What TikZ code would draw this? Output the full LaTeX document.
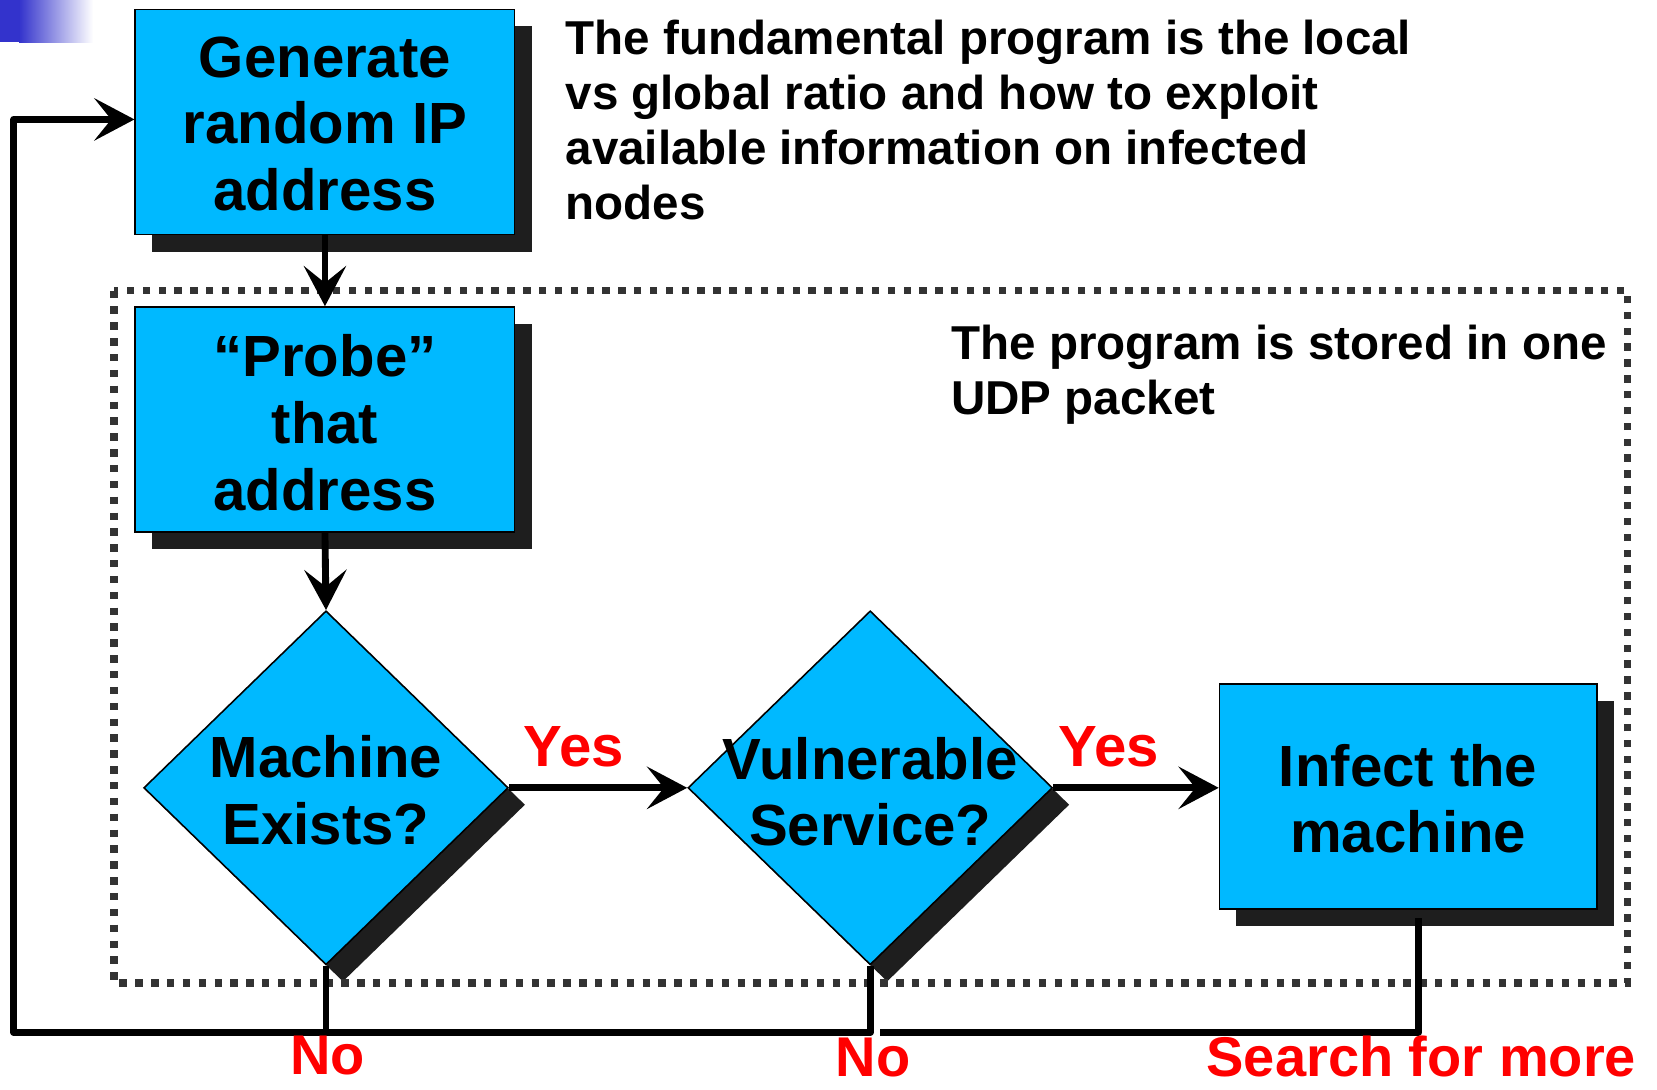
\documentclass[tikz,border=0pt]{standalone}
\usepackage{fontspec}
\setmainfont{Liberation Sans}
\usetikzlibrary{shapes.geometric, arrows.meta, shadows, calc}
\definecolor{boxblue}{RGB}{0,185,255}
\definecolor{shadowc}{RGB}{30,30,30}
\definecolor{dotc}{RGB}{51,51,51}
\definecolor{redt}{RGB}{255,0,0}
\definecolor{slideblue}{RGB}{51,51,204}
\begin{document}
\begin{tikzpicture}[x=1pt,y=-1pt,
  shapebox/.style={draw=black, line width=1.5pt, fill=boxblue, inner sep=0pt,
    drop shadow={shadow xshift=16pt, shadow yshift=-16pt, fill=shadowc, opacity=1}},
  rectbox/.style={shapebox, rectangle, minimum width=359pt, minimum height=213pt},
  diabox/.style={shapebox, diamond, minimum width=345pt, minimum height=335pt},
  boxtext/.style={align=center, font=\fontsize{55}{63}\selectfont\bfseries, inner sep=0pt},
  conn/.style={line width=6.5pt, line join=round},
  arr/.style={conn, -{Stealth[length=38pt, width=40pt, inset=16pt]}},
  redlabel/.style={text=redt, font=\fontsize{55}{63}\selectfont\bfseries, inner sep=0pt},
  bottomlabel/.style={text=redt, font=\fontsize{53}{60}\selectfont\bfseries, inner sep=0pt, anchor=base},
  note/.style={align=left, font=\fontsize{45}{52}\selectfont\bfseries, inner sep=0pt, anchor=north west}
]
\useasboundingbox (0,0) rectangle (1568,1031);
% slide decoration
\fill[slideblue] (0,0) rectangle (18,40);
\shade[left color=slideblue, right color=white] (18,0) rectangle (88,40);

% shapes
\node[rectbox, minimum width=359pt] (gen) at (307.5,115.5) {};
\node[rectbox] (probe) at (307.5,397) {};
\node[diabox] (d1) at (308.5,745.5) {};
\node[diabox] (d2) at (823.5,745.5) {};
\node[rectbox, minimum width=357pt] (infect) at (1332.5,753.5) {};

\node[boxtext] (gent) at (307.5,117) {Generate\\random IP\\address};
\node[boxtext] (probet) at (307.5,400) {“Probe”\\that\\address};
\node[boxtext] (d1t) at (308.5,748) {Machine\\Exists?};
\node[boxtext] (d2t) at (823.5,749) {Vulnerable\\Service?};
\node[boxtext] (infectt) at (1332.5,756) {Infect the\\machine};

% notes
\node[note] (note1) at (535,19) {The fundamental program is the local\\vs global ratio and how to exploit\\available information on infected\\nodes};
\node[note] (note2) at (900,307) {The program is stored in one\\UDP packet};

% dotted region
\draw[dotc, line width=7pt, dash pattern=on 7pt off 8pt] (108,275) rectangle (1540,930);

% connectors
\coordinate (bl) at (13,977);
\coordinate (tl) at (13,113);
\draw[arr] (gen.south) -- (probe.north);
\draw[arr] (probe.south) -- (d1.north);
\draw[arr] (d1.east) -- (d2.west);
\draw[arr] (d2.east) -- (d2.east -| infect.west);
\draw[arr] (d1.south) -- (d1.south |- bl) -- (bl) -- (tl) -- (tl -| gen.west);
\draw[conn] (d2.south) -- (d2.south |- bl) -- (d1.south |- bl);
\coordinate (is) at ($(infect.south)+(10,8)$);
\draw[conn] (is) -- (is |- bl) -- ($(d2.south |- bl)+(9,0)$);

% labels
\node[redlabel] (yes1) at (543,707) {Yes};
\node[redlabel] (yes2) at (1049,707) {Yes};
\node[bottomlabel] (no1) at (310,1017) {No};
\node[bottomlabel] (no2) at (826,1019) {No};
\node[bottomlabel] (more) at (1345,1019) {Search for more};
\end{tikzpicture}
\end{document}
